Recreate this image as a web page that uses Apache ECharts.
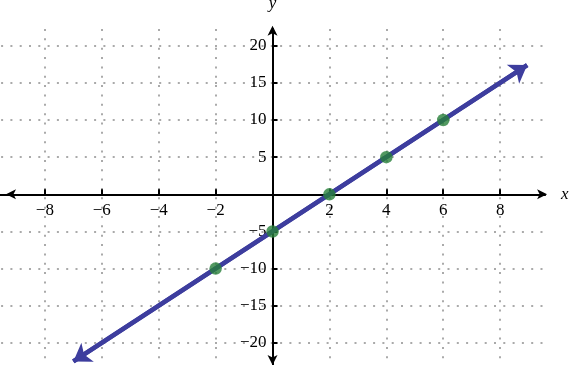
<!DOCTYPE html>
<html>
<head>
<meta charset="utf-8">
<script src="https://cdn.jsdelivr.net/npm/echarts@6/dist/echarts.min.js"></script>
<style>
html,body{margin:0;padding:0;background:#fff;}
#c{width:569px;height:365px;}
</style>
</head>
<body>
<div id="c"></div>
<script>
// ---- data ----
const pointX = [-2, 0, 2, 4, 6];
const pointY = [-10, -5, 0, 5, 10];
// blue line ends (arrow tips)
const lineX = [-7, 8.95];
const lineY = [-22.5, 17.4];
// axis ranges and tick steps
const xRange = [-10, 9.58];
const yRange = [-25, 22.25];
const xStep = 2;
const yStep = 5;

const fmt = function (v, step) {
  if (Math.abs(v) < 1e-9) return '';
  if (Math.abs(v / step - Math.round(v / step)) > 1e-6) return '';
  return '{t|' + (v < 0 ? '\u2212' + (-v) : String(v)) + '}';
};

const chart = echarts.init(document.getElementById('c'), null, {renderer: 'canvas'});
const font = '"Liberation Serif", "DejaVu Serif", serif';
const rich = {t: {fontFamily: font, fontSize: 17, color: '#000'}};

const G = {left: -12, top: 29, width: 557.1, height: 351.05};
// pixel offsets that put each axis on the other axis' zero
const xZeroPx = G.top + G.height * (yRange[1] - 0) / (yRange[1] - yRange[0]);
const yZeroPx = G.left + G.width * (0 - xRange[0]) / (xRange[1] - xRange[0]);

const option = {
  animation: false,
  backgroundColor: '#fff',
  textStyle: {fontFamily: font},
  grid: {left: G.left, top: G.top, width: G.width, height: G.height,
    containLabel: false, outerBoundsMode: 'none'},
  xAxis: {
    type: 'value', position: 'bottom',
    offset: -(G.top + G.height - xZeroPx),
    min: xRange[0], max: xRange[1], interval: xStep,
    name: 'x', nameLocation: 'end', nameGap: 16,
    nameTextStyle: {fontFamily: font, fontStyle: 'italic', fontSize: 17, color: '#000', verticalAlign: 'middle'},
    axisLine: {show: true, onZero: false, lineStyle: {color: '#000', width: 2},
      symbol: ['arrow', 'arrow'], symbolSize: [7.5, 10], symbolOffset: [18, 2]},
    axisTick: {show: true, inside: true, length: 5, lineStyle: {color: '#000', width: 2}},
    axisLabel: {show: true, margin: 8, fontFamily: font, fontSize: 17, color: '#000', rich: rich,
      showMinLabel: false, showMaxLabel: false, hideOverlap: false,
      formatter: function (v) { return fmt(v, xStep); }},
    splitLine: {show: true, showMinLine: false, showMaxLine: false,
      lineStyle: {color: '#aaa', width: 2, type: [2, 7.35], dashOffset: 0}}
  },
  yAxis: {
    type: 'value', position: 'left',
    offset: -(yZeroPx - G.left),
    min: yRange[0], max: yRange[1], interval: yStep,
    name: 'y', nameLocation: 'end', nameGap: 17,
    nameTextStyle: {fontFamily: font, fontStyle: 'italic', fontSize: 17, color: '#000'},
    axisLine: {show: true, onZero: false, lineStyle: {color: '#000', width: 2},
      symbol: ['arrow', 'arrow'], symbolSize: [7.5, 10], symbolOffset: [15, 3.3]},
    axisTick: {show: true, inside: true, length: 5, lineStyle: {color: '#000', width: 2}},
    axisLabel: {show: true, margin: 6, fontFamily: font, fontSize: 17, color: '#000', rich: rich,
      showMinLabel: false, showMaxLabel: false, hideOverlap: false,
      formatter: function (v) { return fmt(v, yStep); }},
    splitLine: {show: true, showMinLine: false, showMaxLine: false,
      lineStyle: {color: '#aaa', width: 2, type: [2, 7.3], dashOffset: 5.5}}
  },
  series: [
    {
      type: 'line',
      data: lineX.map(function (x, i) { return [x, lineY[i]]; }),
      showSymbol: false,
      silent: true,
      z: 3,
      lineStyle: {color: '#3d3d9e', width: 4.5},
      markLine: {
        silent: true,
        symbol: ['arrow', 'arrow'],
        symbolSize: 17,
        label: {show: false},
        lineStyle: {color: '#3d3d9e', width: 4.5, type: 'solid'},
        emphasis: {disabled: true},
        data: [[{coord: [lineX[0], lineY[0]]}, {coord: [lineX[1], lineY[1]]}]]
      }
    },
    {
      type: 'scatter',
      data: pointX.map(function (x, i) { return [x, pointY[i]]; }),
      symbol: 'circle',
      symbolSize: 12.5,
      z: 10,
      silent: true,
      itemStyle: {color: '#27803a'}
    }
  ]
};
chart.setOption(option);
</script>
</body>
</html>
